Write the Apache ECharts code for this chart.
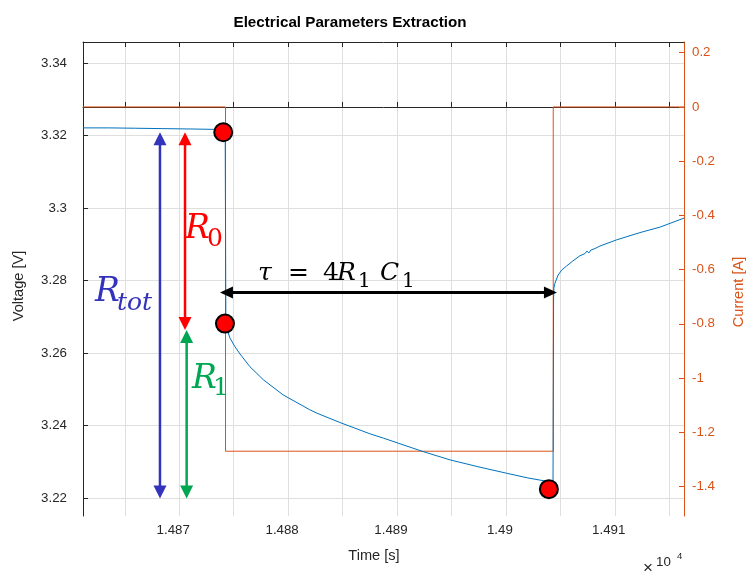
<!DOCTYPE html>
<html>
<head>
<meta charset="utf-8">
<title>Electrical Parameters Extraction</title>
<script src="https://cdn.jsdelivr.net/npm/echarts@6/dist/echarts.min.js"></script>
<style>
  html, body { margin: 0; padding: 0; background: #ffffff; }
  #chart { width: 746px; height: 575px; }
</style>
</head>
<body>
<div id="chart"></div>
<script>
// Cell voltage response (left axis) to a current pulse (right axis)
const timeS = [
  14861.16, 14863.5, 14866, 14868.5, 14871, 14873, 14874.22,
  14874.28, 14874.47, 14874.66, 14875.12, 14875.58, 14876.49, 14877.72, 14879.55, 14882.0, 14882.63,
  14884.76, 14887.5, 14888.74, 14890.11, 14892.47, 14894.86, 14897.43, 14900.07,
  14902.02, 14903.89, 14904.33,
  14904.38, 14904.41, 14904.5, 14904.8, 14905.14, 14905.58, 14906.16, 14906.8, 14907.26, 14907.44,
  14907.63, 14907.81, 14907.99, 14908.18, 14908.36, 14908.64, 14910.17, 14912.31, 14914.14, 14916.36
];
const voltageV = [
  3.3221, 3.3221, 3.3220, 3.3219, 3.3218, 3.3217, 3.3216,
  3.2672, 3.2658, 3.2641, 3.2617, 3.2597, 3.2562, 3.2526, 3.2484, 3.2443, 3.2434,
  3.2408, 3.2377, 3.2365, 3.2351, 3.2327, 3.2305, 3.2286, 3.2268,
  3.2255, 3.2245, 3.2243,
  3.2746, 3.2779, 3.2792, 3.2815, 3.2829, 3.2840, 3.2854, 3.2868, 3.2874, 3.2881,
  3.2876, 3.2884, 3.2880, 3.2888, 3.2886, 3.2895, 3.2912, 3.2932, 3.2947, 3.2972
];
const currentTimeS = [14861.16, 14874.25, 14874.25, 14904.35, 14904.35, 14916.36];
const currentA = [0, 0, -1.27, -1.27, 0, 0];

// Points used for the parameter extraction
const keyTimeS = [14874.04, 14874.2, 14903.95];
const keyVoltageV = [3.3209, 3.2681, 3.2224];

// Axis ranges and ticks
const timeRange = [14861.16, 14916.36];
const voltageRange = [3.215, 3.3458];
const currentRange = [-1.509, 0.2395];
const timeTicks = [14865, 14870, 14875, 14880, 14885, 14890, 14895, 14900, 14905, 14910, 14915];
const timeLabelTicks = [14870, 14880, 14890, 14900, 14910];
const voltageTicks = [3.22, 3.24, 3.26, 3.28, 3.30, 3.32, 3.34];
const currentTicks = [-1.4, -1.2, -1, -0.8, -0.6, -0.4, -0.2, 0, 0.2];

// Double-headed arrows (time, voltage) and their colours
const arrowFrom = [[14868.23, 3.3209], [14870.53, 3.3209], [14870.68, 3.2663], [14873.74, 3.2767]];
const arrowTo   = [[14868.23, 3.2198], [14870.53, 3.2663], [14870.68, 3.2198], [14904.69, 3.2767]];
const arrowColors = ['#3333bb', '#ff0000', '#00a651', '#000000'];

// Math labels: text, anchor (time, voltage of the baseline start), style, colour
const mathText   = ['R', 'tot', 'R', '0', 'R', '1', '\u03c4', '=', '4', 'R', '1', 'C', '1'];
const mathAnchor = [
  [14862.26, 3.2738], [14864.28, 3.2713],
  [14870.53, 3.2912], [14872.55, 3.2892],
  [14871.17, 3.2498], [14873.10, 3.2479],
  [14877.23, 3.2796], [14879.98, 3.2796], [14883.20, 3.2796], [14884.48, 3.2796],
  [14886.41, 3.2779], [14888.43, 3.2796], [14890.45, 3.2779]
];
const mathItalic = [true, true, true, false, true, false, true, false, false, true, false, true, false];
const mathSize   = [33, 25, 33, 25, 33, 25, 25, 25, 25, 25, 20, 25, 20];
const mathColor  = ['#3333bb', '#3333bb', '#ff0000', '#ff0000', '#00a651', '#00a651',
                    '#000000', '#000000', '#000000', '#000000', '#000000', '#000000', '#000000'];

const AX = '#262626';
const ORANGE = '#D95319';
const BLUE = '#0072BD';
const SANS = '"Liberation Sans", Arial, sans-serif';
const MATH = '"DejaVu Serif", serif';

const zip = (a, b) => a.map((v, i) => [v, b[i]]);

const chart = echarts.init(document.getElementById('chart'), null, { renderer: 'canvas' });

const option = {
  animation: false,
  backgroundColor: '#ffffff',
  title: {
    text: 'Electrical Parameters Extraction',
    left: 345, top: 10, textAlign: 'center',
    textStyle: { fontFamily: SANS, fontSize: 15.2, fontWeight: 'bold', color: '#000000' }
  },
  grid: { left: 83, right: 62, top: 42, bottom: 59, containLabel: false, outerBoundsMode: 'none' },
  xAxis: [
    {
      type: 'value', position: 'bottom', min: timeRange[0], max: timeRange[1],
      axisLine: { show: true, lineStyle: { color: AX, width: 1 } },
      axisTick: { show: true, inside: true, length: 5, customValues: timeTicks, lineStyle: { color: AX } },
      axisLabel: {
        customValues: timeLabelTicks, margin: 8, padding: [0, 12, 0, 0],
        fontFamily: SANS, fontSize: 13.3, color: AX,
        formatter: v => String(+(v / 10000).toFixed(4))
      },
      splitLine: { show: true, lineStyle: { color: '#dfdfdf', width: 1 } }
    },
    {
      type: 'value', position: 'top', min: timeRange[0], max: timeRange[1],
      axisLine: { show: true, onZero: false, lineStyle: { color: AX, width: 1 } },
      axisTick: { show: true, inside: true, length: 5, customValues: timeTicks, lineStyle: { color: AX } },
      axisLabel: { show: false },
      splitLine: { show: false }
    }
  ],
  yAxis: [
    {
      type: 'value', position: 'left', min: voltageRange[0], max: voltageRange[1],
      axisLine: { show: true, onZero: false, lineStyle: { color: AX, width: 1 } },
      axisTick: { show: true, inside: true, length: 5, customValues: voltageTicks, lineStyle: { color: AX } },
      axisLabel: {
        customValues: voltageTicks, margin: 16, fontFamily: SANS, fontSize: 13.3, color: AX,
        formatter: v => String(+v.toFixed(2))
      },
      splitLine: { show: true, lineStyle: { color: '#dfdfdf', width: 1 } }
    },
    {
      type: 'value', position: 'right', min: currentRange[0], max: currentRange[1],
      axisLine: { show: true, onZero: false, lineStyle: { color: ORANGE, width: 1 } },
      axisTick: { show: true, inside: true, length: 5, customValues: currentTicks, lineStyle: { color: ORANGE } },
      axisLabel: {
        customValues: currentTicks, margin: 8, fontFamily: SANS, fontSize: 13.3, color: ORANGE,
        formatter: v => String(+v.toFixed(1))
      },
      splitLine: { show: false }
    }
  ],
  series: [
    {
      name: 'Current', type: 'line', xAxisIndex: 0, yAxisIndex: 1,
      data: zip(currentTimeS, currentA), showSymbol: false, symbol: 'none',
      lineStyle: { color: ORANGE, width: 1 }, itemStyle: { color: ORANGE }, z: 2
    },
    {
      name: 'Voltage', type: 'line', xAxisIndex: 0, yAxisIndex: 0,
      data: zip(timeS, voltageV), showSymbol: false, symbol: 'none',
      lineStyle: { color: BLUE, width: 1 }, itemStyle: { color: BLUE }, z: 3
    },
    {
      name: 'Key points', type: 'scatter', xAxisIndex: 0, yAxisIndex: 0,
      data: zip(keyTimeS, keyVoltageV), symbol: 'circle', symbolSize: 18,
      itemStyle: { color: '#ff0000', borderColor: '#000000', borderWidth: 2, opacity: 1 }, z: 10
    }
  ]
};
chart.setOption(option);

// Annotations placed through the axes' scales
const px = (t, v) => chart.convertToPixel({ xAxisIndex: 0, yAxisIndex: 0 }, [t, v]);
const elements = [];

arrowFrom.forEach((from, i) => {
  const p1 = px(from[0], from[1]);
  const p2 = px(arrowTo[i][0], arrowTo[i][1]);
  const color = arrowColors[i];
  const dx = p2[0] - p1[0], dy = p2[1] - p1[1];
  const len = Math.hypot(dx, dy);
  const ux = dx / len, uy = dy / len, nx = -uy, ny = ux;
  const headL = 13, headW = i === 3 ? 6 : 6.5;
  const lw = i === 3 ? 3 : 2.5;
  const b1 = [p1[0] + ux * headL, p1[1] + uy * headL];
  const b2 = [p2[0] - ux * headL, p2[1] - uy * headL];
  elements.push({
    type: 'line', z: 50, silent: true,
    shape: { x1: b1[0] - ux, y1: b1[1] - uy, x2: b2[0] + ux, y2: b2[1] + uy },
    style: { stroke: color, lineWidth: lw }
  });
  elements.push({
    type: 'polygon', z: 50, silent: true,
    shape: { points: [p1, [b1[0] + nx * headW, b1[1] + ny * headW], [b1[0] - nx * headW, b1[1] - ny * headW]] },
    style: { fill: color }
  });
  elements.push({
    type: 'polygon', z: 50, silent: true,
    shape: { points: [p2, [b2[0] + nx * headW, b2[1] + ny * headW], [b2[0] - nx * headW, b2[1] - ny * headW]] },
    style: { fill: color }
  });
});

mathText.forEach((txt, i) => {
  const p = px(mathAnchor[i][0], mathAnchor[i][1]);
  const size = mathSize[i];
  elements.push({
    type: 'text', z: 60, silent: true,
    x: p[0], y: p[1] - 0.32 * size,
    style: {
      text: txt, fill: mathColor[i],
      font: (mathItalic[i] ? 'italic ' : '') + size + 'px ' + MATH,
      align: 'left', verticalAlign: 'middle', textAlign: 'left', textVerticalAlign: 'middle'
    }
  });
});

// Axis titles and the x-axis exponent
const plainText = (text, x, y, size, color, rotation, align) => ({
  type: 'text', z: 60, silent: true, x, y, rotation: rotation || 0,
  style: {
    text, fill: color, font: size + 'px ' + SANS,
    align: align || 'center', verticalAlign: 'middle',
    textAlign: align || 'center', textVerticalAlign: 'middle'
  }
});
elements.push(plainText('Time [s]', 374, 556, 14.6, AX));
elements.push(plainText('Voltage [V]', 19, 286, 14.6, AX, Math.PI / 2));
elements.push(plainText('Current [A]', 739, 292, 14.6, ORANGE, Math.PI / 2));
elements.push(plainText('\u00d7', 648, 568, 17, AX));
elements.push(plainText('10', 656, 562, 13.3, AX, 0, 'left'));
elements.push(plainText('4', 677, 556, 9.5, AX, 0, 'left'));

chart.setOption({ graphic: elements });
</script>
</body>
</html>
